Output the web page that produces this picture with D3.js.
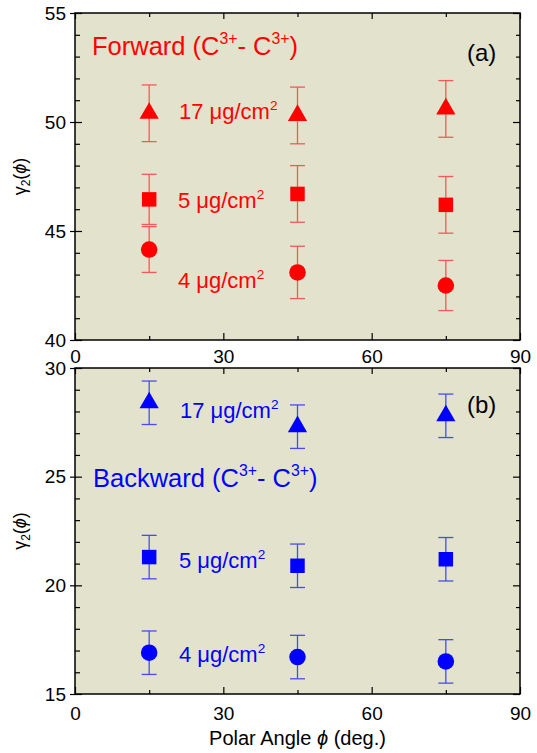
<!DOCTYPE html>
<html>
<head>
<meta charset="utf-8">
<script src="https://cdn.jsdelivr.net/npm/d3@7"></script>
<style>
body{margin:0;background:#fff;}
text{font-family:Arial,"Liberation Sans",sans-serif;}
</style>
</head>
<body>
<svg id="chart" width="537" height="753"></svg>
<script>
// polar angles (deg.)
var angles=[15,45,75];

// (a) forward C3+ - C3+
var fwd17=[50.4,50.3,50.6], fwd17Err=[1.3,1.3,1.3];
var fwd5=[46.45,46.7,46.2], fwd5Err=[1.15,1.3,1.3];
var fwd4=[44.15,43.1,42.5], fwd4Err=[1.05,1.2,1.15];

// (b) backward C3+ - C3+
var bwd17=[28.4,27.3,27.8], bwd17Err=[1.0,1.0,1.0];
var bwd5=[21.3,20.9,21.2], bwd5Err=[1.0,1.0,1.0];
var bwd4=[16.9,16.7,16.5], bwd4Err=[1.0,1.0,1.0];

var xMajor=[0,30,60,90], xMinor=[15,45,75];
var yMajorTop=[40,45,50,55], yMajorBot=[15,20,25,30];

var bg="#e3e2cc";
var font="Arial, Liberation Sans, sans-serif";

var svg=d3.select("#chart");
svg.append("rect").attr("width",537).attr("height",753).attr("fill","#fff");

var x=d3.scaleLinear().domain([0,90]).range([75,520]);
var yTop=d3.scaleLinear().domain([40,55]).range([340,13]);
var yBot=d3.scaleLinear().domain([15,30]).range([694,368]);

function minorTicks(lo,hi,major){
    var out=[];
    for(var v=lo;v<=hi;v++){ if(major.indexOf(v)<0) out.push(v); }
    return out;
}

function styleAxis(g){
    g.select(".domain").remove();
    g.attr("font-size",19).attr("font-family",font);
    g.selectAll("line").attr("stroke","#000").attr("stroke-width",1.2);
    g.selectAll("text").attr("fill","#000");
}

function drawPanel(y,yMajor,xPad){
    var top=y.range()[1], bot=y.range()[0];
    var dom=y.domain();
    var yMinor=minorTicks(dom[0],dom[1],yMajor);
    var g=svg.append("g");

    g.append("rect")
        .attr("x",x(0)).attr("y",top)
        .attr("width",x(90)-x(0)).attr("height",bot-top)
        .attr("fill",bg);

    // bottom
    g.append("g").attr("transform","translate(0,"+bot+")")
        .call(d3.axisBottom(x).tickValues(xMajor).tickSize(-7).tickSizeOuter(0).tickPadding(xPad)).call(styleAxis);
    g.append("g").attr("transform","translate(0,"+bot+")")
        .call(d3.axisBottom(x).tickValues(xMinor).tickSize(-4).tickSizeOuter(0).tickFormat("")).call(styleAxis);
    // top
    g.append("g").attr("transform","translate(0,"+top+")")
        .call(d3.axisTop(x).tickValues(xMajor).tickSize(-6).tickSizeOuter(0).tickFormat("")).call(styleAxis);
    g.append("g").attr("transform","translate(0,"+top+")")
        .call(d3.axisTop(x).tickValues(xMinor).tickSize(-4).tickSizeOuter(0).tickFormat("")).call(styleAxis);
    // left
    g.append("g").attr("transform","translate("+x(0)+",0)")
        .call(d3.axisLeft(y).tickValues(yMajor).tickSize(-7).tickSizeOuter(0).tickPadding(9)).call(styleAxis);
    g.append("g").attr("transform","translate("+x(0)+",0)")
        .call(d3.axisLeft(y).tickValues(yMajor).tickSize(5).tickSizeOuter(0).tickFormat("")).call(styleAxis);
    g.append("g").attr("transform","translate("+x(0)+",0)")
        .call(d3.axisLeft(y).tickValues(yMinor).tickSize(-5).tickSizeOuter(0).tickFormat("")).call(styleAxis);
    // right
    g.append("g").attr("transform","translate("+x(90)+",0)")
        .call(d3.axisRight(y).tickValues(yMajor).tickSize(-7).tickSizeOuter(0).tickFormat("")).call(styleAxis);
    g.append("g").attr("transform","translate("+x(90)+",0)")
        .call(d3.axisRight(y).tickValues(yMinor).tickSize(-4).tickSizeOuter(0).tickFormat("")).call(styleAxis);

    g.append("rect")
        .attr("x",x(0)).attr("y",top)
        .attr("width",x(90)-x(0)).attr("height",bot-top)
        .attr("fill","none").attr("stroke","#000").attr("stroke-width",1.5);
    return g;
}

function drawSeries(g,y,vals,errs,type,size,color,barColor){
    var data=angles.map(function(a,i){return {a:a,v:vals[i],e:errs[i]};});
    var s=g.append("g");
    s.selectAll(null).data(data).enter().append("line")
        .attr("x1",function(d){return x(d.a);}).attr("x2",function(d){return x(d.a);})
        .attr("y1",function(d){return y(d.v+d.e);}).attr("y2",function(d){return y(d.v-d.e);})
        .attr("stroke",barColor).attr("stroke-width",1.3);
    [1,-1].forEach(function(k){
        s.selectAll(null).data(data).enter().append("line")
            .attr("x1",function(d){return x(d.a)-7.5;}).attr("x2",function(d){return x(d.a)+7.5;})
            .attr("y1",function(d){return y(d.v+k*d.e);}).attr("y2",function(d){return y(d.v+k*d.e);})
            .attr("stroke",barColor).attr("stroke-width",1.3);
    });
    s.selectAll(null).data(data).enter().append("path")
        .attr("d",d3.symbol().type(type).size(size))
        .attr("transform",function(d){return "translate("+x(d.a)+","+y(d.v)+")";})
        .attr("fill",color);
}

// text with superscript parts: [string, isSup]
function supText(g,px,py,parts,size,color,anchor){
    var t=g.append("text").attr("x",px).attr("y",py)
        .attr("font-size",size).attr("fill",color).attr("font-family",font)
        .attr("text-anchor",anchor||"start");
    var shift=0;
    parts.forEach(function(p){
        var want=p[1]?-0.42*size:0;
        t.append("tspan").text(p[0])
            .attr("dy",want-shift)
            .attr("font-size",p[1]?size*0.62:size);
        shift=want;
    });
    return t;
}

var red="#ff0000", redBar="#f25a5a";
var blue="#0000ff", blueBar="#4a4af5";

var gA=drawPanel(yTop,yMajorTop,10);
drawSeries(gA,yTop,fwd17,fwd17Err,d3.symbolTriangle,160,red,redBar);
drawSeries(gA,yTop,fwd5,fwd5Err,d3.symbolSquare,210,red,redBar);
drawSeries(gA,yTop,fwd4,fwd4Err,d3.symbolCircle,215,red,redBar);

var gB=drawPanel(yBot,yMajorBot,13);
drawSeries(gB,yBot,bwd17,bwd17Err,d3.symbolTriangle,160,blue,blueBar);
drawSeries(gB,yBot,bwd5,bwd5Err,d3.symbolSquare,210,blue,blueBar);
drawSeries(gB,yBot,bwd4,bwd4Err,d3.symbolCircle,215,blue,blueBar);

// annotations
supText(gA,92,55,[["Forward (C",0],["3+",1],["- C",0],["3+",1],[")",0]],25.5,red);
supText(gA,179,119,[["17 \u03bcg/cm",0],["2",1]],22,red);
supText(gA,178,208,[["5 \u03bcg/cm",0],["2",1]],22,red);
supText(gA,178,288,[["4 \u03bcg/cm",0],["2",1]],22,red);
gA.append("text").attr("x",467).attr("y",61).attr("font-size",24).attr("font-family",font).text("(a)");

supText(gB,93,487,[["Backward (C",0],["3+",1],["- C",0],["3+",1],[")",0]],25.5,blue);
supText(gB,180,418,[["17 \u03bcg/cm",0],["2",1]],22,blue);
supText(gB,179,568,[["5 \u03bcg/cm",0],["2",1]],22,blue);
supText(gB,179,662,[["4 \u03bcg/cm",0],["2",1]],22,blue);
gB.append("text").attr("x",467).attr("y",413).attr("font-size",24).attr("font-family",font).text("(b)");

// y titles
function yTitle(cy){
    var t=svg.append("text")
        .attr("transform","translate(26,"+cy+") rotate(-90)")
        .attr("text-anchor","middle").attr("font-size",18).attr("font-family",font);
    t.append("tspan").text("\u03b3");
    t.append("tspan").text("2").attr("font-size",12).attr("dy",4);
    t.append("tspan").text("(").attr("dy",-4);
    t.append("tspan").text("\u03d5").attr("font-style","italic");
    t.append("tspan").text(")");
}
yTitle((yTop.range()[0]+yTop.range()[1])/2);
yTitle((yBot.range()[0]+yBot.range()[1])/2);

// x title
var xt=svg.append("text").attr("x",(x(0)+x(90))/2).attr("y",745)
    .attr("text-anchor","middle").attr("font-size",20).attr("font-family",font);
xt.append("tspan").text("Polar Angle ");
xt.append("tspan").text("\u03d5").attr("font-style","italic");
xt.append("tspan").text(" (deg.)");
</script>
</body>
</html>
